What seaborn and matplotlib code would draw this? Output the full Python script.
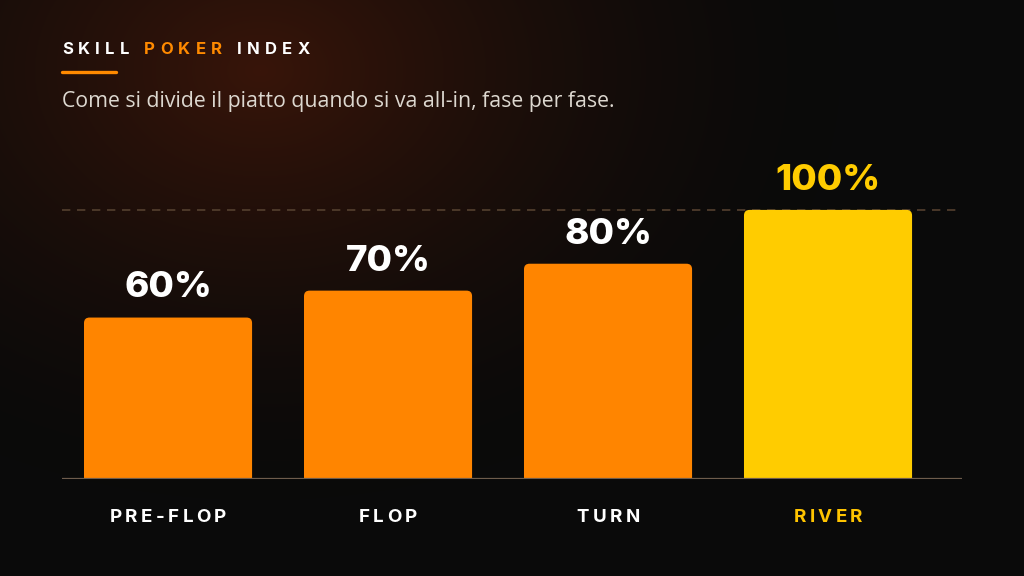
import numpy as np
import seaborn as sns
import matplotlib.pyplot as plt
from matplotlib.patches import FancyBboxPatch

# dati
fasi = ['PRE-FLOP', 'FLOP', 'TURN', 'RIVER']
quote = [60, 70, 80, 100]
colori_barre = ['#FF8500', '#FF8500', '#FF8500', '#FFCC00']
colori_etichette = ['#FFFFFF', '#FFFFFF', '#FFFFFF', '#FFC400']
titolo = [('SKILL ', '#FFFFFF'), ('POKER ', '#FF8A00'), ('INDEX', '#FFFFFF')]
sottotitolo = 'Come si divide il piatto quando si va all-in, fase per fase.'

sns.set_theme(style='dark')
plt.rcParams['font.family'] = ['Inter', 'DejaVu Sans']

W, H = 1024, 576
fig = plt.figure(figsize=(10.24, 5.76), dpi=100)

# sfondo con alone caldo in alto a sinistra
bg = fig.add_axes([0, 0, 1, 1], zorder=0)
yy, xx = np.mgrid[0:H, 0:W]
d = np.hypot((xx - 260) / 580, (yy - 70) / 430)
t = np.clip(1 - d, 0, 1) ** 1.6
base = np.array([10, 10, 10]) / 255
glow = np.array([56, 21, 9]) / 255
img = base + (glow - base) * t[..., None]
bg.imshow(img, extent=[0, 1, 0, 1], aspect='auto', origin='upper')
bg.axis('off')

# assi: baseline a y=479px, 2.69 px per punto percentuale
ax = fig.add_axes([62 / W, (H - 479) / H, 900 / W, 296 / H], zorder=1)
ax.set_facecolor('none')
sns.barplot(x=fasi, y=quote, hue=fasi, palette=colori_barre, width=0.764,
            saturation=1, legend=False, ax=ax)
ax.set_xlim(-0.482, 3.609)
ax.set_ylim(0, 110)

# barre con angoli arrotondati solo in alto (la base finisce sotto l'asse)
aspetto = (900 / 4.091) / 2.69
for p in list(ax.patches):
    x, w, h, fc = p.get_x(), p.get_width(), p.get_height(), p.get_facecolor()
    p.remove()
    ax.add_patch(FancyBboxPatch((x, -4), w, h + 4,
                                boxstyle='round,pad=0,rounding_size=0.025',
                                mutation_aspect=aspetto, fc=fc, ec='none', zorder=2))

ax.axhline(100, color='#54402f', lw=1.2, ls=(0, (5, 4)), zorder=1)
ax.axhline(0, color='#6e5c4c', lw=1.6, zorder=3)

for i, q in enumerate(quote):
    ax.text(i, q + 11, f'{q}%', ha='center', va='center', fontsize=26.5,
            fontweight='heavy', color=colori_barre[i] if q == 100 else 'white',
            clip_on=False)

ax.set_xticks([])
ax.set_yticks([])
ax.set_xlabel('')
ax.set_ylabel('')
for s in ax.spines.values():
    s.set_visible(False)

renderer = fig.canvas.get_renderer()


def larghezza(c, **kw):
    if c == ' ':
        return kw['fontsize'] * 0.28 * 100 / 72
    tt = fig.text(0, 0, c, **kw)
    w = tt.get_window_extent(renderer).width
    tt.remove()
    return w


def testo_spaziato(x, y, pezzi, spazio, centra=False, **kw):
    # x, y in pixel dall'alto a sinistra
    voci = [(c, col, larghezza(c, **kw)) for s, col in pezzi for c in s]
    tot = sum(w for _, _, w in voci) + spazio * (len(voci) - 1)
    cx = x - tot / 2 if centra else x
    for c, col, w in voci:
        if c != ' ':
            fig.text(cx / W, 1 - y / H, c, color=col, va='center', ha='left', **kw)
        cx += w + spazio


testo_spaziato(62, 50, titolo, 5.2, fontsize=12, fontweight='bold')
fig.add_artist(plt.Line2D([62 / W, 116 / W], [1 - 72 / H] * 2,
                          color='#FF8A00', lw=2.4))
fig.text(62 / W, 1 - 101 / H, sottotitolo, color='#DDD8D0', fontsize=15.3,
         va='center', ha='left', family=['Open Sans', 'DejaVu Sans'])

for i, f in enumerate(fasi):
    testo_spaziato(168 + 220 * i, 517, [(f, colori_etichette[i])], 3.4,
                   centra=True, fontsize=13.5, fontweight='bold')

fig.savefig('out.png', dpi=100)
